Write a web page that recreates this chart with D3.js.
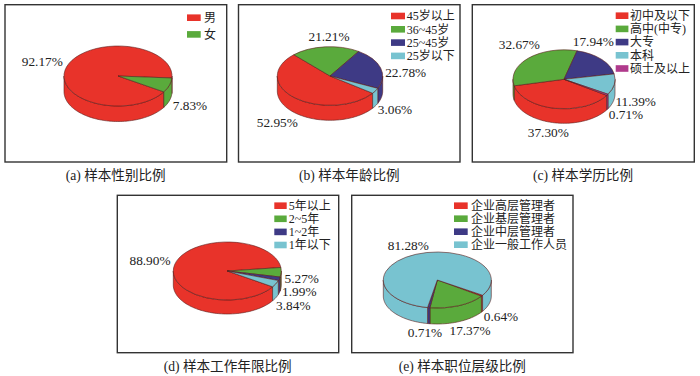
<!DOCTYPE html>
<html><head><meta charset="utf-8">
<script src="https://cdn.jsdelivr.net/npm/d3@7/dist/d3.min.js"></script>
<style>html,body{margin:0;background:#fff}svg{display:block}text{font-family:"Liberation Serif","Noto Sans CJK SC",serif;fill:#222}</style>
</head><body><svg id="c" width="700" height="376"></svg>
<script>
// Data
const categoriesA = ["男","女"];
const valuesA = [92.17,7.83];
const categoriesB = ["45岁以上","36~45岁","25~45岁","25岁以下"];
const valuesB = [52.95,21.21,22.78,3.06];
const categoriesC = ["初中及以下","高中(中专)","大专","本科","硕士及以上"];
const valuesC = [37.30,32.67,17.94,11.39,0.71];
const categoriesD = ["5年以上","2~5年","1~2年","1年以下"];
const valuesD = [88.90,5.27,1.99,3.84];
const categoriesE = ["企业高层管理者","企业基层管理者","企业中层管理者","企业一般工作人员"];
const valuesE = [0.64,17.37,0.71,81.28];
const captions = ["(a) 样本性别比例","(b) 样本年龄比例","(c) 样本学历比例","(d) 样本工作年限比例","(e) 样本职位层级比例"];

// Colours
const colorsStd = ["#e8332a","#5aaa3c","#3e3a85","#78c3d0","#b03a8c"];
const colorsE = ["#e8332a","#5aaa3c","#3e3a85","#78c3d0"];

// Layout
const panels = [
 {cat:categoriesA,val:valuesA,col:colorsStd,frame:[5,4.7,221.7,157.3],cx:118,cy:76,rx:54,ry:30,depth:15.5,start:122,
  cap:[115.7,175.7],leg:{x:187,w:13.7,y:17.7,dy:16.7,tx:204},lab:[[42.3,61.7],[190,105.7]]},
 {cat:categoriesB,val:valuesB,col:colorsStd,frame:[238.5,4.7,221.5,157.3],cx:330,cy:76,rx:52.7,ry:29.3,depth:15,start:126,
  cap:[349.3,175.7],leg:{x:391,w:14,y:16,dy:13.3,tx:406.7},lab:[[277.3,122.7],[329,36.7],[405.7,72.7],[395,109.3]]},
 {cat:categoriesC,val:valuesC,col:colorsStd,frame:[472.3,4.7,222,157.3],cx:564,cy:79.3,rx:51,ry:29.5,depth:14.5,start:123,
  cap:[583,175.7],leg:{x:615.7,w:12.7,y:15.7,dy:13.2,tx:630},lab:[[548.3,132.7],[519.3,44.3],[593.3,41.7],[635.7,101],[626,114.3]]},
 {cat:categoriesD,val:valuesD,col:colorsStd,frame:[117.3,195.3,221.4,157.4],cx:227.3,cy:271,rx:54,ry:29,depth:14,start:123,
  cap:[227.7,366.7],leg:{x:274.3,w:12.4,y:205.7,dy:13.1,tx:288.7},lab:[[150,260],[301.7,278.2],[299.3,291.6],[293.3,305]]},
 {cat:categoriesE,val:valuesE,col:colorsE,frame:[351.7,195.3,221.3,157.4],cx:437.3,cy:280,rx:54,ry:28,depth:16,start:123,
  cap:[462.3,366.7],leg:{x:454,w:13.7,y:205.7,dy:13,tx:471},lab:[[501,316],[470,330],[425,332.3],[408.3,245.3]]}
];

const svg = d3.select("#c");
const TAU = Math.PI*2, edge = "#5b1f1c";

panels.forEach(p=>{
  const g = svg.append("g");
  g.append("rect").attr("x",p.frame[0]).attr("y",p.frame[1]).attr("width",p.frame[2]).attr("height",p.frame[3])
    .attr("fill","#fff").attr("stroke","#333").attr("stroke-width",1.4);

  const s = p.start*Math.PI/180;
  const pie = d3.pie().sort(null).startAngle(s).endAngle(s+TAU);
  const arcs = pie(p.val);
  const px = a=>p.cx+p.rx*Math.sin(a), py = a=>p.cy-p.ry*Math.cos(a);

  // Side wall: only the part of each slice facing the viewer
  const line = d3.line();
  arcs.forEach((d,i)=>{
    [0,1].forEach(k=>{
      const lo = Math.max(d.startAngle, Math.PI/2+k*TAU), hi = Math.min(d.endAngle, 3*Math.PI/2+k*TAU);
      if(hi<=lo) return;
      const n = Math.max(2,Math.ceil((hi-lo)*30));
      const as = d3.range(n+1).map(j=>lo+(hi-lo)*j/n);
      const pts = as.map(a=>[px(a),py(a)]).concat(as.slice().reverse().map(a=>[px(a),py(a)+p.depth]));
      g.append("path").attr("d",line(pts)+"Z").attr("fill",p.col[i]).attr("stroke",edge).attr("stroke-width",.6).attr("stroke-linejoin","round");
    });
  });

  // Top face: a d3 arc flattened into an ellipse
  const arc = d3.arc().innerRadius(0).outerRadius(p.rx);
  const top = g.append("g").attr("transform",`translate(${p.cx},${p.cy}) scale(1,${p.ry/p.rx})`);
  top.selectAll("path").data(arcs).join("path").attr("d",arc)
    .attr("fill",(d,i)=>p.col[i]).attr("stroke",edge).attr("stroke-width",.6)
    .attr("vector-effect","non-scaling-stroke");

  // Value labels
  g.selectAll("text.v").data(p.val).join("text").attr("class","v")
    .attr("x",(d,i)=>p.lab[i][0]).attr("y",(d,i)=>p.lab[i][1]).attr("dy","0.35em")
    .attr("text-anchor","middle").attr("font-size",13.3).text(d=>d.toFixed(2)+"%");

  // Legend
  p.cat.forEach((c,i)=>{
    const y = p.leg.y+i*p.leg.dy;
    g.append("rect").attr("x",p.leg.x).attr("y",y-3.3).attr("width",p.leg.w).attr("height",6.6).attr("fill",p.col[i]);
    g.append("text").attr("x",p.leg.tx).attr("y",y).attr("dy","0.36em").attr("font-size",12).text(c);
  });
});

// Captions
panels.forEach((p,i)=>{
  svg.append("text").attr("x",p.cap[0]).attr("y",p.cap[1]).attr("dy","0.35em").attr("text-anchor","middle")
    .attr("font-size",13.6).text(captions[i]);
});
</script></body></html>
